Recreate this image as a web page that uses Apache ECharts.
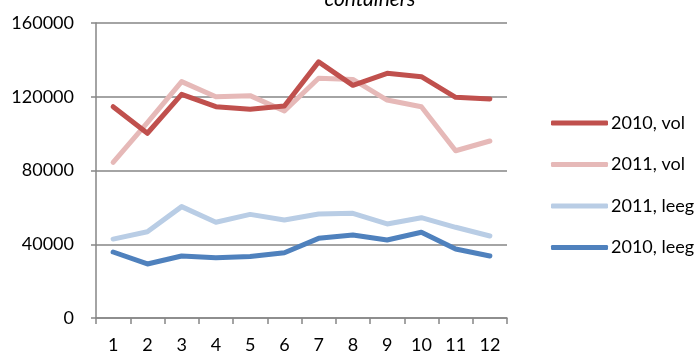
<!DOCTYPE html>
<html>
<head>
<meta charset="utf-8">
<script src="https://cdn.jsdelivr.net/npm/echarts@6/dist/echarts.min.js"></script>
<style>
  html, body { margin: 0; padding: 0; background: #fff; }
  #chart { width: 699px; height: 354px; }
</style>
</head>
<body>
<div id="chart"></div>
<script>
// Monthly container counts, full (vol) and empty (leeg), 2010 vs 2011
var months = ['1', '2', '3', '4', '5', '6', '7', '8', '9', '10', '11', '12'];
var vol2010  = [114600, 100200, 121300, 114600, 113200, 115000, 138900, 126200, 132700, 130900, 119700, 118800];
var vol2011  = [84400, 106000, 128200, 120000, 120600, 112300, 130000, 129400, 118200, 114600, 90700, 96000];
var leeg2011 = [42800, 46800, 60400, 51900, 56200, 53200, 56400, 56800, 51000, 54400, 49200, 44500];
var leeg2010 = [35800, 29300, 33600, 32700, 33300, 35400, 43200, 45000, 42300, 46500, 37400, 33600];

var FONT = 'Lato';
var AXIS_GREY = '#868686';

function lineSeries(name, data, color) {
  return {
    name: name,
    type: 'line',
    data: data,
    symbol: 'none',
    lineStyle: { color: color, width: 5, cap: 'round', join: 'round' },
    itemStyle: { color: color },
    emphasis: { disabled: true }
  };
}

var chart = echarts.init(document.getElementById('chart'), null, { renderer: 'canvas' });
chart.setOption({
  animation: false,
  backgroundColor: '#ffffff',
  title: {
    text: 'containers',
    left: 365,
    textAlign: 'center',
    top: -16,
    textStyle: { fontFamily: FONT, fontStyle: 'italic', fontWeight: 'normal', fontSize: 21, color: '#000' }
  },
  grid: { left: 96, right: 192, top: 23, bottom: 35, containLabel: false },
  legend: {
    orient: 'vertical',
    left: 546,
    top: 109,
    icon: 'roundRect',
    itemWidth: 57,
    itemHeight: 5,
    itemGap: 23.5,
    textStyle: { fontFamily: FONT, fontSize: 18, color: '#000', padding: [0, 0, 0, -2], lineHeight: 18 },
    data: ['2010, vol', '2011, vol', '2011, leeg', '2010, leeg']
  },
  xAxis: {
    type: 'category',
    data: months,
    boundaryGap: true,
    axisLine: { lineStyle: { color: AXIS_GREY, width: 1.5 } },
    axisTick: { show: true, length: 6, alignWithLabel: false, lineStyle: { color: AXIS_GREY, width: 1.5 } },
    axisLabel: { fontFamily: FONT, fontSize: 18, color: '#000', margin: 18 },
    splitLine: { show: false }
  },
  yAxis: {
    type: 'value',
    min: 0,
    max: 160000,
    interval: 40000,
    axisLine: { show: true, lineStyle: { color: AXIS_GREY, width: 1.5 } },
    axisTick: { show: true, length: 5, lineStyle: { color: AXIS_GREY, width: 1.5 } },
    axisLabel: {
      fontFamily: FONT, fontSize: 18, color: '#000', margin: 22,
      formatter: function (v) { return String(v); }
    },
    splitLine: { show: true, lineStyle: { color: AXIS_GREY, width: 1.5 } }
  },
  series: [
    lineSeries('2011, vol', vol2011, '#E6B9B8'),
    lineSeries('2010, vol', vol2010, '#C0504D'),
    lineSeries('2011, leeg', leeg2011, '#B9CDE5'),
    lineSeries('2010, leeg', leeg2010, '#4F81BD')
  ]
});
</script>
</body>
</html>
